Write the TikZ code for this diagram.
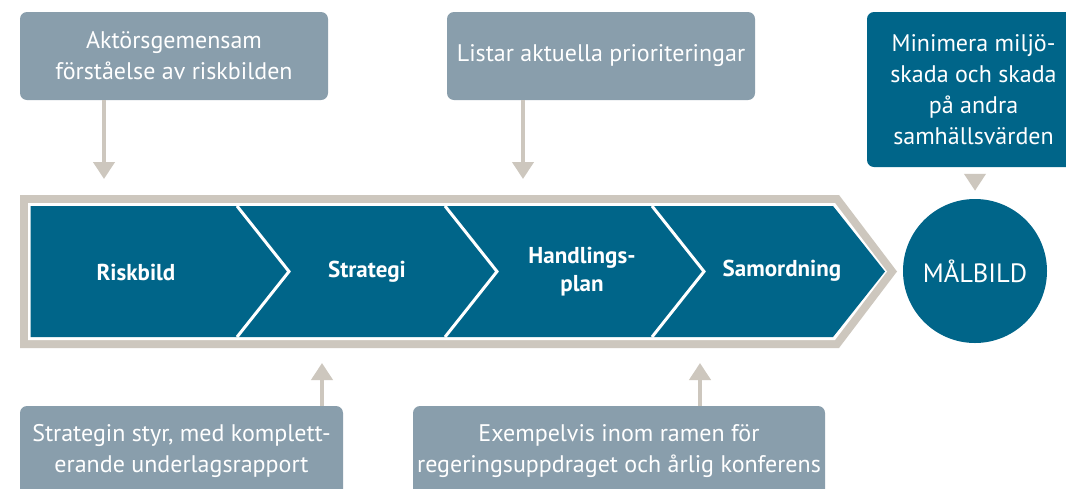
\documentclass[tikz,border=0pt]{standalone}
\usepackage{fontspec}
\setmainfont{PT Sans}
\usetikzlibrary{arrows.meta, positioning, calc}
\definecolor{teal1}{RGB}{0,101,137}
\definecolor{grayblue}{RGB}{137,158,172}
\definecolor{beige}{RGB}{205,199,190}

\begin{document}
\begin{tikzpicture}[
		x=1pt, y=-1pt,
		style1/.style={
				fill=grayblue, rounded corners=7pt, text=white, align=center,
				inner sep=0pt, font=\fontsize{24}{31}\selectfont
			},
		style2/.style={text=white, align=center, font=\bfseries\fontsize{23}{28}\selectfont},
		style3/.style={-{Triangle[width=21pt,length=17pt]}, line width=4pt, draw=beige}
	]
	\clip (0,0) rectangle (1066,488);
	\fill[white] (0,0) rectangle (1066,488);

	\fill[beige] (20,195) -- (839,195) -- (897,271.5) -- (839,348) -- (20,348) -- cycle;
	\fill[white] (28,203) -- (835,203) -- (887,271.5) -- (835,340) -- (28,340) -- cycle;
	\fill[teal1] (30.5,206) -- (833,206) -- (885,271.5) -- (833,337) -- (30.5,337) -- cycle;
	\foreach \x in {237,445,652}
		\draw[white, line width=3pt] (\x,206) -- ++(52,65.5) -- ++(-52,65.5);

	\node[style2] (risk) at (136,272) {Riskbild};
	\node[style2] (strat) at (367,272) {Strategi};
	\node[style2] (plan) at (582,272) {Handlings-\\plan};
	\node[style2] (samord) at (782,271) {Samordning};

	\node[circle, fill=teal1, minimum size=144pt, inner sep=0pt, text=white,
		font=\fontsize{26.5}{30}\selectfont] (malbild) at (975,271) {MÅLBILD};

	\node[style1, minimum width=308pt, minimum height=88pt] (1box) at (174,56) {Aktörsgemensam\\förståelse av riskbilden};
	\node[style1, minimum width=308pt, minimum height=88pt] (2box) at (601,56) {Listar aktuella prioriteringar};
	\node[style1, fill=teal1, minimum width=213pt, minimum height=155pt] (3box) at (973.5,89.5) {Minimera miljö-\\skada och skada\\på andra\\samhällsvärden};
	\node[style1, minimum width=323pt, minimum height=90pt] (4box) at (181.5,451) {Strategin styr, med komplett-\\erande underlagsrapport};
	\node[style1, minimum width=412pt, minimum height=90pt] (5box) at (619,451) {Exempelvis inom ramen för\\regeringsuppdraget och årlig konferens};

	\coordinate (in1) at (104,179);
	\coordinate (in2) at (523,179);
	\coordinate (in4) at (322,363);
	\coordinate (in5) at (700,363);

	\draw[style3] (1box.south -| in1) -- (in1);
	\draw[style3] (2box.south -| in2) -- (in2);
	\draw[style3] (4box.north -| in4) -- (in4);
	\draw[style3] (5box.north -| in5) -- (in5);
	\draw[style3, shorten <=8pt, shorten >=8pt] (3box.south -| malbild) -- (malbild.north);
\end{tikzpicture}
\end{document}
